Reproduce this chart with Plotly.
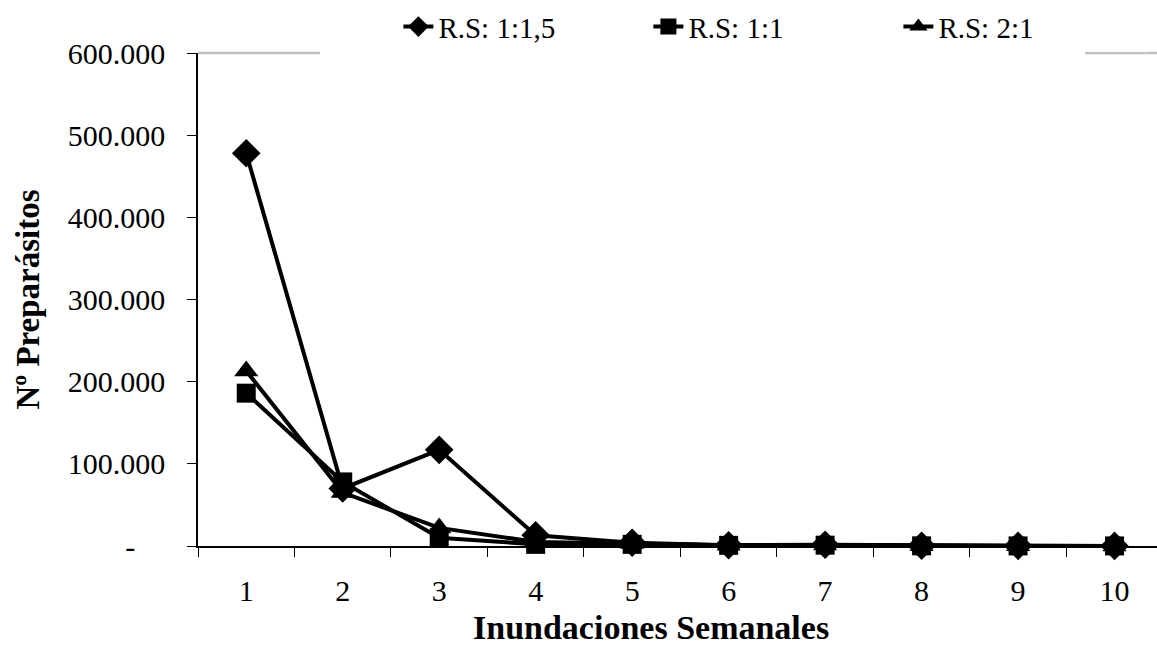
import plotly.graph_objects as go

weeks = ["1", "2", "3", "4", "5", "6", "7", "8", "9", "10"]
rs_1_1_5 = [478000, 70000, 117000, 13000, 4000, 1000, 1500, 300, 200, 100]
rs_1_1 = [186000, 78000, 10000, 2000, 2000, 800, 1000, 200, 100, 100]
rs_2_1 = [213000, 65000, 22000, 5000, 3000, 1000, 1200, 300, 200, 100]

y_tickvals = [0, 100000, 200000, 300000, 400000, 500000, 600000]
y_ticktext = ["-\u00a0\u00a0\u00a0\u00a0", "100.000", "200.000", "300.000", "400.000", "500.000", "600.000"]

FONT = "Liberation Serif"

series = [
    ("R.S: 1:1,5", rs_1_1_5, "diamond", 22),
    ("R.S: 1:1", rs_1_1, "square", 19),
    ("R.S: 2:1", rs_2_1, "triangle-up", 21),
]

fig = go.Figure()
for name, vals, sym, size in series:
    fig.add_trace(go.Scatter(
        x=weeks, y=vals, name=name, mode="lines+markers",
        line=dict(color="black", width=4),
        marker=dict(symbol=sym, size=size, color="black"),
        cliponaxis=False,
    ))

fig.update_layout(
    width=1157, height=650,
    margin=dict(l=198, r=0, t=53, b=104),
    paper_bgcolor="white", plot_bgcolor="white",
    font=dict(family=FONT, size=30, color="black"),
    showlegend=True,
    legend=dict(
        orientation="h", x=0.600, xanchor="center", y=1.105, yanchor="top",
        bgcolor="white", font=dict(family=FONT, size=29, color="black"),
        entrywidth=205, itemwidth=30,
    ),
    xaxis=dict(
        type="category", range=[-0.5, 9.44],
        showline=True, linecolor="black", linewidth=1.5,
        ticks="outside", tickson="boundaries", ticklen=9, tickcolor="black",
        showgrid=False, zeroline=False,
        tickfont=dict(family=FONT, size=30),
        ticklabelstandoff=17,
    ),
    yaxis=dict(
        range=[0, 600000], tickvals=y_tickvals, ticktext=y_ticktext,
        showline=True, linecolor="black", linewidth=1.5,
        ticks="outside", ticklen=9, tickcolor="black",
        showgrid=False, zeroline=False,
        tickfont=dict(family=FONT, size=30),
        ticklabelstandoff=16,
        title=dict(text="<b>Nº Preparásitos</b>", font=dict(family=FONT, size=33), standoff=18),
    ),
    annotations=[
        dict(text="<b>Inundaciones Semanales</b>", xref="paper", yref="paper",
             x=0.4724, y=-0.207, xanchor="center", yanchor="bottom", showarrow=False,
             font=dict(family=FONT, size=34, color="black")),
    ],
    shapes=[
        dict(type="line", xref="paper", yref="paper", x0=0, x1=0.1272, y0=1, y1=1,
             line=dict(color="#C0C0C0", width=2.5), layer="below"),
        dict(type="line", xref="paper", yref="paper", x0=0.9249, x1=1, y0=1, y1=1,
             line=dict(color="#C0C0C0", width=2.5), layer="below"),
    ],
)

fig.write_html("out.html")
